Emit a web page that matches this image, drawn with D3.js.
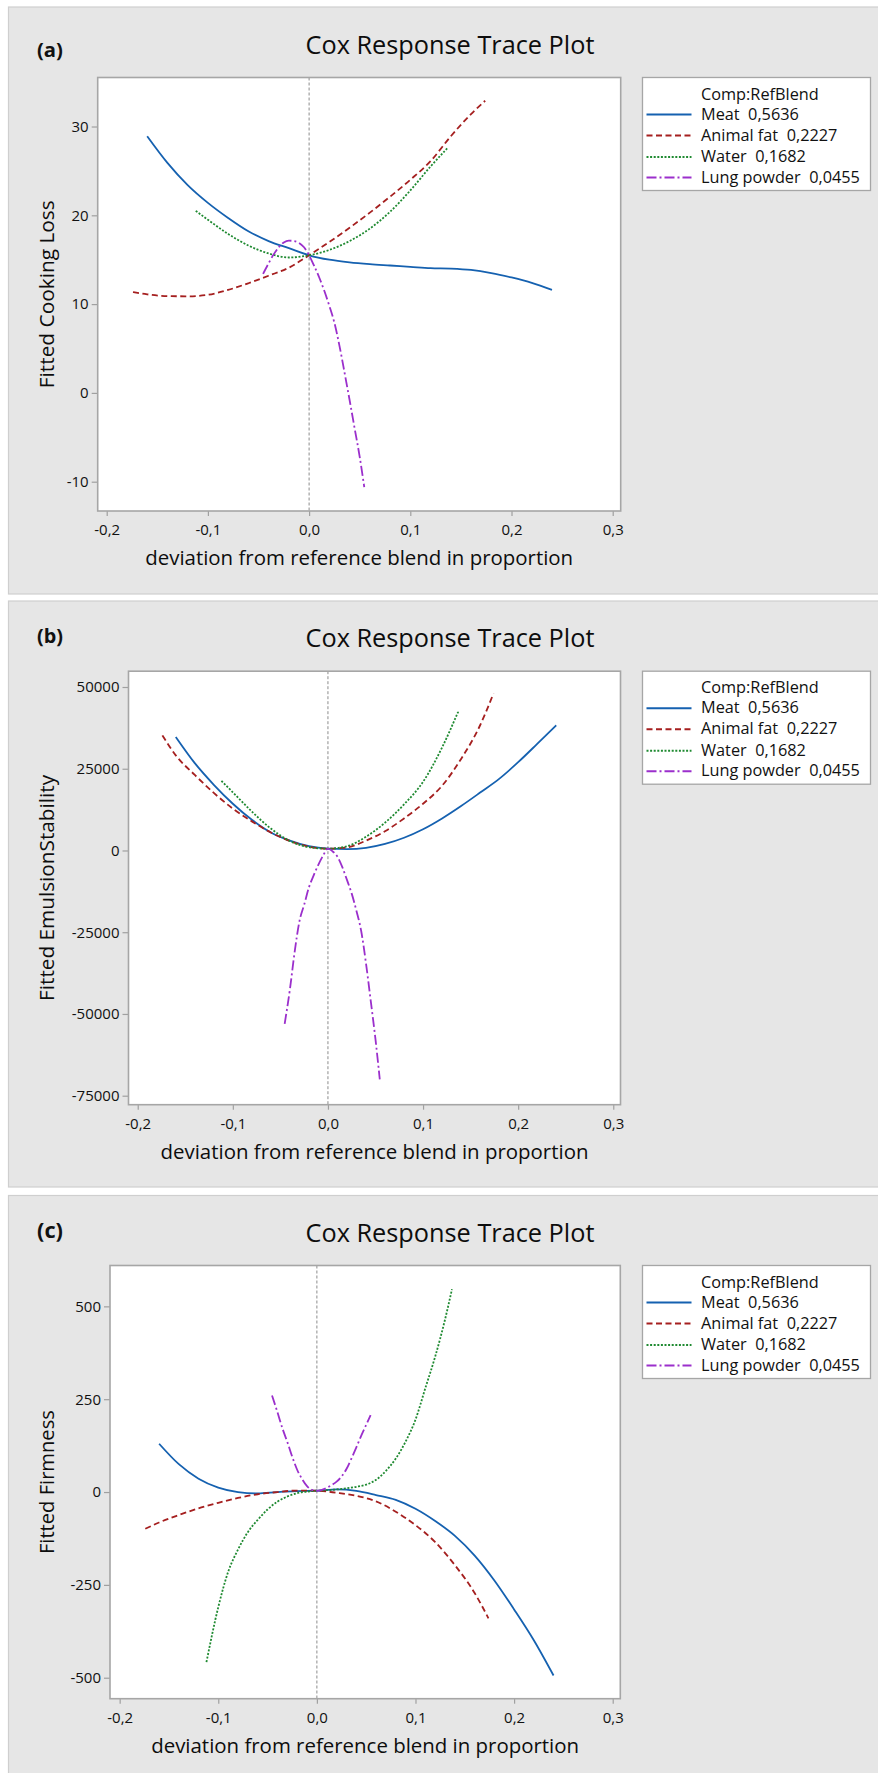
<!DOCTYPE html>
<html><head><meta charset="utf-8">
<script src="https://cdn.jsdelivr.net/npm/d3@7"></script>
<style>
html,body{margin:0;padding:0;background:#fff;}
svg{display:block;font-family:"Open Sans","Noto Sans",sans-serif;}
</style></head><body>
<svg id="chart" width="878" height="1773"></svg>
<script>
// ---------- data ----------
const seriesNames = ["Meat\u00a0\u00a00,5636","Animal fat\u00a0\u00a00,2227","Water\u00a0\u00a00,1682","Lung powder\u00a0\u00a00,0455"];
const legendTitle = "Comp:RefBlend";
const chartTitle = "Cox Response Trace Plot";
const xAxisLabel = "deviation from reference blend in proportion";
const panelTags = ["(a)","(b)","(c)"];
const yAxisLabels = ["Fitted Cooking Loss","Fitted EmulsionStability","Fitted Firmness"];

const xTicks = [-0.2,-0.1,0,0.1,0.2,0.3];
const yTicksA = [-10,0,10,20,30];
const yTicksB = [-75000,-50000,-25000,0,25000,50000];
const yTicksC = [-500,-250,0,250,500];

const xMeat = [-0.16,-0.14,-0.12,-0.10,-0.08,-0.06,-0.04,-0.02,0,0.02,0.04,0.06,0.08,0.10,0.12,0.14,0.16,0.18,0.20,0.22,0.24];
const xFat = [-0.174,-0.16,-0.14,-0.12,-0.10,-0.08,-0.06,-0.04,-0.02,0,0.02,0.04,0.06,0.08,0.10,0.12,0.14,0.16,0.174];
const xWater = [-0.112,-0.10,-0.08,-0.06,-0.04,-0.02,0,0.02,0.04,0.06,0.08,0.10,0.12,0.137];
const xWaterFine = [-0.112,-0.10,-0.09,-0.08,-0.07,-0.06,-0.05,-0.04,-0.03,-0.02,-0.01,0,0.01,0.02,0.03,0.04,0.05,0.06,0.07,0.08,0.09,0.10,0.11,0.12,0.13,0.137];
const xLung = [-0.0455,-0.04,-0.035,-0.03,-0.025,-0.02,-0.015,-0.01,-0.005,0,0.005,0.01,0.015,0.02,0.025,0.03,0.035,0.04,0.045,0.05,0.0545];

const cookMeat = [28.9,25.9,23.4,21.4,19.7,18.2,17.1,16.3,15.5,15.0,14.7,14.5,14.35,14.2,14.05,14.0,13.85,13.5,13.0,12.4,11.6];
const cookFat = [11.35,11.1,10.9,10.88,11.05,11.6,12.35,13.2,14.1,15.5,17.0,18.6,20.3,22.1,24.0,26.1,28.9,31.4,32.9];
const cookWater = [20.5,19.5,17.9,16.6,15.7,15.25,15.5,16.1,17.1,18.5,20.4,22.8,25.5,27.6];
const cookLung = [13.4,14.6,15.6,16.4,16.95,17.15,17.1,16.9,16.4,15.5,14.3,13.0,11.5,9.8,7.9,5.3,2.3,-0.8,-4.0,-7.2,-10.6];

const emulMeat = [34700,26700,20100,14300,9400,5500,3000,1300,550,400,800,2000,3900,6500,9800,13600,17700,21900,27000,32600,38300];
const emulFat = [35200,29100,23100,17600,12800,8900,5500,2900,1150,550,950,3000,5900,9800,14300,19800,28000,38300,48000];
const emulWater = [21300,17800,11900,6700,2900,1000,550,1300,4200,8500,14100,21000,31500,42500];
const emulLung = [-53000,-42500,-31000,-21700,-16600,-11300,-7600,-4300,-1500,550,-300,-1900,-5000,-9000,-13200,-18500,-24700,-34500,-46000,-57800,-70000];

const firmMeat = [130,75,36,12,0,-3.5,0,2.5,3.5,7,3,-8,-21,-45,-78,-118,-171,-238,-316,-399,-494];
const firmFat = [-99,-82,-62,-44,-29,-16,-6,0,4,3.5,-2,-10,-25,-53,-89,-135,-197,-272,-340];
const firmWater = [-458,-310,-215,-155,-108,-75,-47,-26,-12,-3,1,3.5,5,7,10,14,20,33,57,90,136,195,280,365,465,546];
const firmLung = [260,215,172,135,95,60,35,16,6,3.5,6,11,19,28,42,62,90,120,152,181,207];

// ---------- styles ----------
const colors = ["#1561b0","#a51f1f","#1f8a31","#9b2fcc"];
const dashes = [null,"6,3.5","2,1.6","10,3,2,3"];

const panels = [
 {tag:panelTags[0], boxY:7, boxH:587, tagY:57, titleY:54,
  plot:{l:97.7,r:620.7,t:77.5,b:511}, xDom:[-0.2089,0.3079], yDom:[-13.3,35.52], yTicks:yTicksA,
  yLabel:yAxisLabels[0], xs:[xMeat,xFat,xWater,xLung], ys:[cookMeat,cookFat,cookWater,cookLung], ylw:188},
 {tag:panelTags[1], boxY:601, boxH:586, tagY:643, titleY:647,
  plot:{l:128.5,r:620.5,t:671.2,b:1104.7}, xDom:[-0.2097,0.3076], yDom:[-77753,54832], yTicks:yTicksB,
  yLabel:yAxisLabels[1], xs:[xMeat,xFat,xWater,xLung], ys:[emulMeat,emulFat,emulWater,emulLung], ylw:226},
 {tag:panelTags[2], boxY:1195.5, boxH:620, tagY:1238, titleY:1242,
  plot:{l:110,r:620.3,t:1265.5,b:1698.7}, xDom:[-0.2098,0.3077], yDom:[-556.5,610], yTicks:yTicksC,
  yLabel:yAxisLabels[2], xs:[xMeat,xFat,xWaterFine,xLung], ys:[firmMeat,firmFat,firmWater,firmLung], ylw:144}
];

const svg = d3.select("#chart");
const locale = d3.formatLocale({decimal:",",thousands:"",grouping:[3],currency:["",""],minus:"-"});
const fmtX = locale.format(".1f");
const fmtY = locale.format("d");

function fit(sel, target){
  const w = sel.node().getComputedTextLength();
  const fs = parseFloat(sel.attr("font-size"));
  sel.attr("font-size", (fs*target/w).toFixed(2));
  return fs*target/w;
}

panels.forEach(p => {
  const g = svg.append("g");
  g.append("rect").attr("x",8.5).attr("y",p.boxY).attr("width",900).attr("height",p.boxH)
    .attr("fill","#e6e6e6").attr("stroke","#cfcfcf").attr("stroke-width",1.2);

  const x = d3.scaleLinear().domain(p.xDom).range([p.plot.l,p.plot.r]);
  const y = d3.scaleLinear().domain(p.yDom).range([p.plot.b,p.plot.t]);

  // tag and title
  const tag = g.append("text").attr("x",37).attr("y",p.tagY).attr("font-size",17)
    .attr("font-weight","bold").attr("fill","#111").text(p.tag);
  fit(tag, 26);
  const title = g.append("text").attr("x",450).attr("y",p.titleY).attr("text-anchor","middle")
    .attr("font-size",24).attr("fill","#0d0d0d").text(chartTitle);
  fit(title, 289);

  // plot area
  g.append("rect").attr("x",p.plot.l).attr("y",p.plot.t).attr("width",p.plot.r-p.plot.l)
    .attr("height",p.plot.b-p.plot.t).attr("fill","#fff");

  // axes
  const ax = g.append("g").attr("transform",`translate(0,${p.plot.b})`)
    .call(d3.axisBottom(x).tickValues(xTicks).tickFormat(fmtX).tickSize(5).tickPadding(8.5));
  const ay = g.append("g").attr("transform",`translate(${p.plot.l},0)`)
    .call(d3.axisLeft(y).tickValues(p.yTicks).tickFormat(fmtY).tickSize(6).tickPadding(3));
  [ax,ay].forEach(a => {
    a.select(".domain").remove();
    a.selectAll("line").attr("stroke","#a0a0a0").attr("stroke-width",1.2);
    a.selectAll("text").attr("font-size",15).attr("fill","#111")
      .attr("font-family","'Open Sans','Noto Sans',sans-serif");
  });

  // reference line
  g.append("line").attr("x1",x(0)).attr("x2",x(0)).attr("y1",p.plot.t).attr("y2",p.plot.b)
    .attr("stroke","#8c8c8c").attr("stroke-width",1).attr("stroke-dasharray","3,2");

  // curves
  const line = d3.line().x(d=>x(d[0])).y(d=>y(d[1])).curve(d3.curveMonotoneX);
  p.ys.forEach((vals,i) => {
    const pts = vals.map((v,j)=>[p.xs[i][j], v]);
    g.append("path").datum(pts).attr("d",line).attr("fill","none")
      .attr("stroke",colors[i]).attr("stroke-width",1.8)
      .attr("stroke-dasharray",dashes[i]);
  });

  // frame
  g.append("rect").attr("x",p.plot.l).attr("y",p.plot.t).attr("width",p.plot.r-p.plot.l)
    .attr("height",p.plot.b-p.plot.t).attr("fill","none").attr("stroke","#a6a6a6").attr("stroke-width",1.6);

  // axis labels
  const xl = g.append("text").attr("x",(p.plot.l+p.plot.r)/2).attr("y",p.plot.b+54)
    .attr("text-anchor","middle").attr("font-size",19).attr("fill","#0d0d0d").text(xAxisLabel);
  fit(xl, 428);
  const yl = g.append("text").attr("transform",`translate(53.5,${(p.plot.t+p.plot.b)/2}) rotate(-90)`)
    .attr("text-anchor","middle").attr("font-size",19).attr("fill","#0d0d0d").text(p.yLabel);
  fit(yl, p.ylw);

  // legend
  const lg = g.append("g").attr("transform",`translate(642.5,${p.plot.t})`);
  lg.append("rect").attr("width",228).attr("height",113).attr("fill","#fff")
    .attr("stroke","#a6a6a6").attr("stroke-width",1.3);
  const rowY = [42,63,84.5,105];
  const rows = seriesNames.map((name,i) => {
    lg.append("line").attr("x1",4).attr("x2",49).attr("y1",rowY[i]-5).attr("y2",rowY[i]-5)
      .attr("stroke",colors[i]).attr("stroke-width",2).attr("stroke-dasharray",dashes[i]);
    return lg.append("text").attr("x",58.5).attr("y",rowY[i]).attr("font-size",14)
      .attr("fill","#111").text(name);
  });
  const fs = fit(rows[3], 159);
  rows.forEach(r => r.attr("font-size", fs.toFixed(2)));
  lg.append("text").attr("x",58.5).attr("y",22).attr("font-size",fs.toFixed(2))
    .attr("fill","#111").text(legendTitle);
});
</script>
</body></html>
